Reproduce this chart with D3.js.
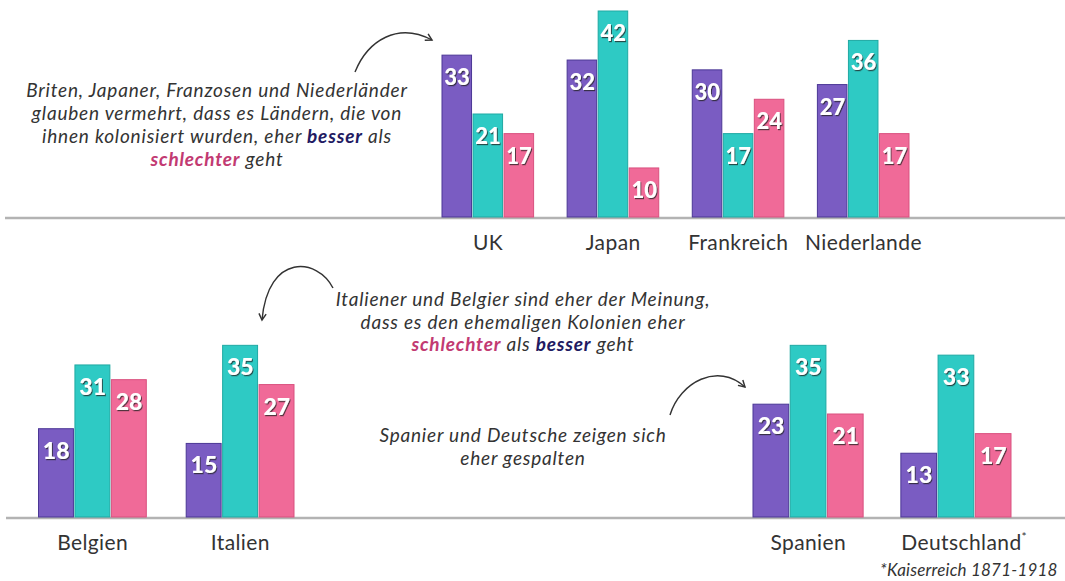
<!DOCTYPE html>
<html>
<head>
<meta charset="utf-8">
<script src="https://cdn.jsdelivr.net/npm/d3@7"></script>
<style>
  body { margin: 0; background: #fff; }
  svg { display: block; font-family: Lato, "Open Sans", sans-serif; }
</style>
</head>
<body>
<svg id="canvas"></svg>
<script>
// values (percent)
let countries = ['UK', 'Japan', 'Frankreich', 'Niederlande', 'Belgien', 'Italien', 'Spanien', 'Deutschland']
let seriesNames = ['besser', 'neutral', 'schlechter']
let besserValues = [33, 32, 30, 27, 18, 15, 23, 13]
let neutralValues = [21, 42, 17, 36, 31, 35, 35, 33]
let schlechterValues = [17, 10, 24, 17, 28, 27, 21, 17]

let topRow = ['UK', 'Japan', 'Frankreich', 'Niederlande']
let bottomLeft = ['Belgien', 'Italien']
let bottomRight = ['Spanien', 'Deutschland']

let width = 1065
let height = 581
let colors = { besser: '#7a5cc2', neutral: '#2ecac4', schlechter: '#f06a98' }
let edges = { besser: '#4b3795', neutral: '#1fa9a3', schlechter: '#d9517f' }

let canvas = d3.select('#canvas')
canvas.attr('width', width)
canvas.attr('height', height)

let defs = canvas.append('defs')
defs.append('filter')
    .attr('id', 'shadow')
    .attr('x', '-20%').attr('y', '-20%').attr('width', '140%').attr('height', '140%')
    .append('feDropShadow')
    .attr('dx', 1).attr('dy', 1.2).attr('stdDeviation', 0.7)
    .attr('flood-color', '#222').attr('flood-opacity', 0.75)
defs.append('marker')
    .attr('id', 'arrow')
    .attr('viewBox', '0 0 10 10')
    .attr('refX', 8).attr('refY', 5)
    .attr('markerWidth', 9).attr('markerHeight', 9)
    .attr('markerUnits', 'userSpaceOnUse')
    .attr('orient', 'auto')
    .append('path')
    .attr('d', 'M1,1 L8,5 L1,9')
    .attr('fill', 'none')
    .attr('stroke', '#333')
    .attr('stroke-width', 1.6)

let rows = countries.map((c, i) => ({
    country: c,
    besser: besserValues[i],
    neutral: neutralValues[i],
    schlechter: schlechterValues[i]
}))

// about 4.9 px per percent, same scale for both rows
let yScale = d3.scaleLinear()
    .domain([0, 42])
    .range([0, 206])

let drawGroups = (names, x0, x1, pad, baseY, fontSize) => {
    let xScale = d3.scaleBand()
        .domain(names)
        .range([x0, x1])
        .paddingInner(pad)
        .paddingOuter(0)
    let inner = d3.scaleBand()
        .domain(seriesNames)
        .range([0, xScale.bandwidth()])

    let groups = canvas.append('g')
        .selectAll('g')
        .data(rows.filter((r) => names.includes(r.country)))
        .enter()
        .append('g')
        .attr('transform', (d) => 'translate(' + xScale(d.country) + ',0)')

    let bars = groups.selectAll('g')
        .data((d) => seriesNames.map((s) => ({ key: s, value: d[s] })))
        .enter()
        .append('g')

    bars.append('rect')
        .attr('x', (d) => inner(d.key) + 0.5)
        .attr('y', (d) => baseY - yScale(d.value))
        .attr('width', inner.bandwidth() - 1.5)
        .attr('height', (d) => yScale(d.value))
        .attr('fill', (d) => colors[d.key])
        .attr('stroke', (d) => edges[d.key])
        .attr('stroke-width', 1)

    bars.append('text')
        .attr('x', (d) => inner(d.key) + inner.bandwidth() / 2)
        .attr('y', (d) => baseY - yScale(d.value) + 30)
        .attr('text-anchor', 'middle')
        .attr('fill', '#fff')
        .attr('font-size', fontSize)
        .attr('font-weight', 900)
        .attr('filter', 'url(#shadow)')
        .text((d) => d.value)

    // category labels
    canvas.append('g')
        .selectAll('text')
        .data(names)
        .enter()
        .append('text')
        .attr('x', (d) => xScale(d) + xScale.bandwidth() / 2)
        .attr('y', baseY + 33)
        .attr('text-anchor', 'middle')
        .attr('fill', '#333')
        .attr('font-size', 21)
        .attr('letter-spacing', 0.4)
        .text((d) => d)
        .filter((d) => d === 'Deutschland')
        .attr('x', (d) => xScale(d) + xScale.bandwidth() / 2 + 8)
        .append('tspan')
        .attr('dy', -9)
        .attr('font-size', 12)
        .text('*')
}

// baselines
canvas.append('line')
    .attr('x1', 5).attr('x2', width).attr('y1', 218).attr('y2', 218)
    .attr('stroke', '#b3b3b3').attr('stroke-width', 2.5)
canvas.append('line')
    .attr('x1', 6).attr('x2', width).attr('y1', 518).attr('y2', 518)
    .attr('stroke', '#b3b3b3').attr('stroke-width', 2.5)

drawGroups(topRow, 441.5, 910, 0.256, 217, 22)
drawGroups(bottomLeft, 38, 295, 0.26, 517, 23)
drawGroups(bottomRight, 752.5, 1012, 0.245, 517, 23)

// annotations
let note = (lines, cx, y0, lh) => {
    let t = canvas.append('text')
        .attr('text-anchor', 'middle')
        .attr('font-size', 19)
        .attr('letter-spacing', 0.8)
        .attr('font-style', 'italic')
        .attr('fill', '#333')
    lines.forEach((parts, i) => {
        parts.forEach((p, j) => {
            let span = t.append('tspan').text(p.t)
            if (j === 0) span.attr('x', cx).attr('y', y0 + i * lh)
            if (p.c) span.attr('fill', p.c).attr('font-weight', 700)
        })
    })
}
let navy = '#221a62'
let rose = '#c23a72'

note([
    [{ t: 'Briten, Japaner, Franzosen und Niederländer' }],
    [{ t: 'glauben vermehrt, dass es Ländern, die von' }],
    [{ t: 'ihnen kolonisiert wurden, eher ' }, { t: 'besser', c: navy }, { t: ' als' }],
    [{ t: 'schlechter', c: rose }, { t: ' geht' }]
], 217, 97, 23)

note([
    [{ t: 'Italiener und Belgier sind eher der Meinung,' }],
    [{ t: 'dass es den ehemaligen Kolonien eher' }],
    [{ t: 'schlechter', c: rose }, { t: ' als ' }, { t: 'besser', c: navy }, { t: ' geht' }]
], 523, 306, 22.5)

note([
    [{ t: 'Spanier und Deutsche zeigen sich' }],
    [{ t: 'eher gespalten' }]
], 523, 442, 23)

// footnote
canvas.append('text')
    .attr('x', 880)
    .attr('y', 576)
    .attr('font-size', 17)
    .attr('letter-spacing', 0.2)
    .attr('font-style', 'italic')
    .attr('fill', '#333')
    .text('*Kaiserreich 1871-1918')

// curved arrows
let arrows = [
    'M355,72 C368,40 398,22 432,40',
    'M333,288 C318,258 268,252 262,320',
    'M670,415 C680,382 718,362 745,387'
]
canvas.selectAll('path.arrow')
    .data(arrows)
    .enter()
    .append('path')
    .attr('class', 'arrow')
    .attr('d', (d) => d)
    .attr('fill', 'none')
    .attr('stroke', '#333')
    .attr('stroke-width', 1.4)
    .attr('marker-end', 'url(#arrow)')
</script>
</body>
</html>
